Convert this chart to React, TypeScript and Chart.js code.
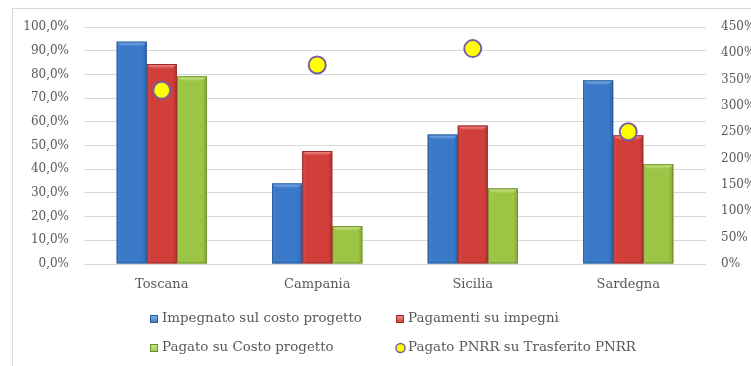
import React, { useEffect, useRef } from "react";
import { Chart, registerables } from "chart.js";

Chart.register(...registerables);

const categories = ["Toscana", "Campania", "Sicilia", "Sardegna"];
const impegnatoSulCosto = [93.8, 34.0, 54.6, 77.5];
const pagamentiSuImpegni = [84.4, 47.7, 58.4, 54.3];
const pagatoSuCosto = [79.2, 16.0, 31.9, 42.1];
const pagatoPnrrSuTrasferito = [330, 378, 409, 251];

const seriesLabels = [
  "Impegnato sul costo progetto",
  "Pagamenti su impegni",
  "Pagato su Costo progetto",
  "Pagato PNRR su Trasferito PNRR",
];

const FONT = "'DejaVu Serif', serif";
const TEXT = "#595959";

const barColors = [
  { base: "#3A78C8", light: "#86B4EE", dark: "#2A5A98" },
  { base: "#D23E3A", light: "#F29592", dark: "#9A2A27" },
  { base: "#9CC445", light: "#D2EE95", dark: "#6E8E2E" },
];

const bevelPlugin = {
  id: "bevel",
  afterDatasetDraw(chart: any, args: any) {
    const ds = chart.data.datasets[args.index];
    if (ds.type !== "bar") return;
    const c = barColors[args.index - 1];
    if (!c) return;
    const ctx = chart.ctx;
    const meta = args.meta;
    ctx.save();
    for (const el of meta.data) {
      const { x, y, base, width } = el.getProps(["x", "y", "base", "width"], true);
      const l = x - width / 2;
      const r = x + width / 2;
      const b = 5;
      const g = ctx.createLinearGradient(l, 0, r, 0);
      g.addColorStop(0, "rgba(255,255,255,0.08)");
      g.addColorStop(0.15, "rgba(255,255,255,0.0)");
      g.addColorStop(0.85, "rgba(0,0,0,0.0)");
      g.addColorStop(1, "rgba(0,0,0,0.15)");
      ctx.fillStyle = g;
      ctx.fillRect(l, y, width, base - y);
      ctx.beginPath();
      ctx.moveTo(l, y);
      ctx.lineTo(r, y);
      ctx.lineTo(r - b, y + b);
      ctx.lineTo(l + b, y + b);
      ctx.closePath();
      const tg = ctx.createLinearGradient(0, y, 0, y + b);
      tg.addColorStop(0, c.light);
      tg.addColorStop(1, c.base);
      ctx.fillStyle = tg;
      ctx.fill();
      ctx.strokeStyle = c.dark;
      ctx.lineWidth = 1;
      ctx.strokeRect(l + 0.5, y + 0.5, width - 1, base - y - 1);
    }
    ctx.restore();
  },
};

const framePlugin = {
  id: "frame",
  beforeDraw(chart: any) {
    const ctx = chart.ctx;
    ctx.save();
    ctx.fillStyle = "#ffffff";
    ctx.fillRect(0, 0, chart.width, chart.height);
    ctx.strokeStyle = "#d9d9d9";
    ctx.lineWidth = 1;
    ctx.strokeRect(12.5, 8.5, 900, 500);
    ctx.restore();
  },
  afterDraw(chart: any) {
    const ctx = chart.ctx;
    ctx.save();
    ctx.font = `13.4px ${FONT}`;
    ctx.textBaseline = "middle";
    ctx.fillStyle = TEXT;
    const cols = [150, 396];
    const rows = [319, 348];
    const order = [1, 2, 3, 0];
    order.forEach((dsIndex, i) => {
      const ds = chart.data.datasets[dsIndex];
      const mx = cols[i % 2];
      const my = rows[Math.floor(i / 2)];
      if (ds.type === "bar") {
        const c = barColors[dsIndex - 1];
        const g = ctx.createLinearGradient(0, my - 4, 0, my + 4);
        g.addColorStop(0, c.light);
        g.addColorStop(1, c.base);
        ctx.fillStyle = g;
        ctx.fillRect(mx, my - 4, 8, 8);
        ctx.strokeStyle = c.dark;
        ctx.lineWidth = 1;
        ctx.strokeRect(mx + 0.5, my - 3.5, 7, 7);
      } else {
        ctx.beginPath();
        ctx.arc(mx + 4.5, my, 4.5, 0, Math.PI * 2);
        ctx.fillStyle = "#FFFF00";
        ctx.fill();
        ctx.strokeStyle = "#7A5FA0";
        ctx.lineWidth = 1.5;
        ctx.stroke();
      }
      ctx.fillStyle = TEXT;
      ctx.textAlign = "left";
      ctx.fillText(ds.label, mx + 12, my);
    });
    ctx.restore();
  },
};

export default function App() {
  const ref = useRef<HTMLCanvasElement>(null);
  useEffect(() => {
    if (!ref.current) return;
    const chart = new Chart(ref.current, {
      type: "bar",
      data: {
        labels: categories,
        datasets: [
          {
            type: "line",
            label: seriesLabels[3],
            data: pagatoPnrrSuTrasferito,
            yAxisID: "y1",
            showLine: false,
            pointRadius: 8.5,
            pointBackgroundColor: "#FFFF00",
            pointBorderColor: "#7A5FA0",
            pointBorderWidth: 2,
            order: -1,
          } as any,
          {
            type: "bar",
            label: seriesLabels[0],
            data: impegnatoSulCosto,
            backgroundColor: barColors[0].base,
            yAxisID: "y",
          },
          {
            type: "bar",
            label: seriesLabels[1],
            data: pagamentiSuImpegni,
            backgroundColor: barColors[1].base,
            yAxisID: "y",
          },
          {
            type: "bar",
            label: seriesLabels[2],
            data: pagatoSuCosto,
            backgroundColor: barColors[2].base,
            yAxisID: "y",
          },
        ],
      },
      options: {
        animation: false,
        responsive: true,
        maintainAspectRatio: false,
        layout: { padding: { top: 27, left: 0, right: 0, bottom: 0 } },
        datasets: { bar: { categoryPercentage: 0.58, barPercentage: 1 } },
        plugins: { legend: { display: false }, tooltip: { enabled: false } },
        scales: {
          x: {
            grid: { display: false, drawTicks: false },
            border: { display: false },
            ticks: { color: TEXT, font: { family: FONT, size: 13 }, padding: 13 },
            afterFit: (s: any) => {
              s.height = 102;
            },
          },
          y: {
            position: "left",
            min: 0,
            max: 100,
            ticks: {
              stepSize: 10,
              color: TEXT,
              font: { family: FONT, size: 12 },
              padding: 15,
              callback: (v: any) => Number(v).toFixed(1).replace(".", ",") + "%",
            },
            grid: { color: "#d9d9d9", drawTicks: false },
            border: { display: false },
            afterFit: (s: any) => {
              s.width = 84;
            },
          },
          y1: {
            position: "right",
            min: 0,
            max: 450,
            ticks: {
              stepSize: 50,
              color: TEXT,
              font: { family: FONT, size: 12 },
              padding: 15,
              callback: (v: any) => v + "%",
            },
            grid: { display: false, drawTicks: false },
            border: { display: false },
            afterFit: (s: any) => {
              s.width = 45;
            },
          },
        },
      },
      plugins: [framePlugin, bevelPlugin],
    });
    return () => chart.destroy();
  }, []);
  return (
    <div style={{ position: "absolute", left: 0, top: 0, width: 751, height: 366 }}>
      <canvas ref={ref} />
    </div>
  );
}
